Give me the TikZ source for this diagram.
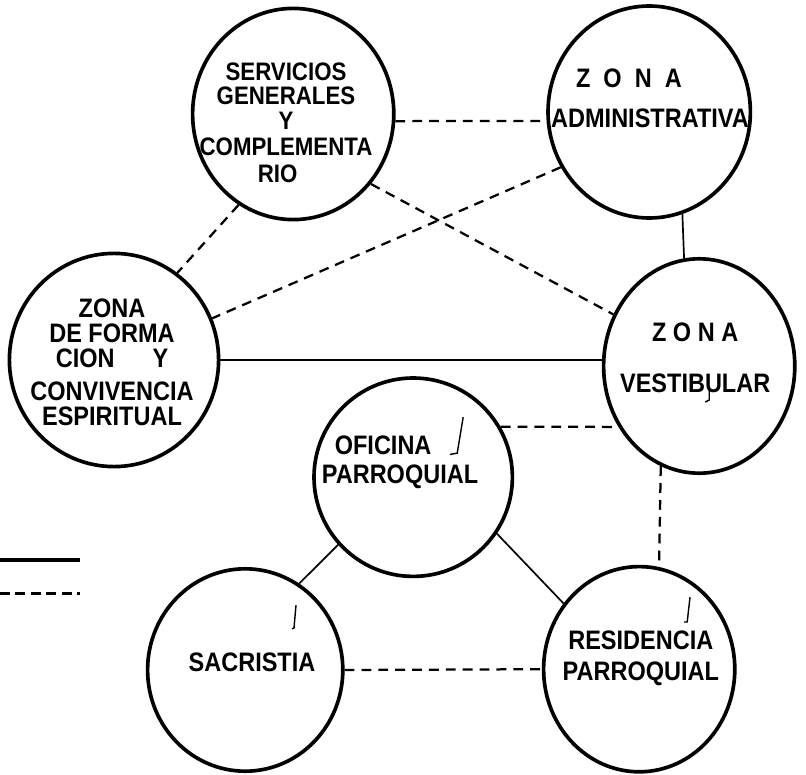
\documentclass[tikz,border=0pt]{standalone}
\usepackage{fontspec}
\setmainfont{Liberation Sans}
\newfontfamily\zonefont{Liberation Sans}[FakeStretch=0.88]
\usepackage{tikz}
\usetikzlibrary{shapes.geometric}
\tikzset{
  zone/.style={draw, ellipse, line width=2.6pt, inner sep=0pt,
               minimum width=5cm, minimum height=5.2cm},
  zonetext/.style={align=center, inner sep=0pt,
                   font=\zonefont\bfseries\fontsize{19}{19}\selectfont},
  link/.style={line width=1.6pt},
  thinlink/.style={line width=1.2pt},
  dashlink/.style={link, dash pattern=on 7pt off 5pt},
  legendline/.style={line width=2.4pt},
  tickmark/.style={line width=1pt}
}
\begin{document}
\begin{tikzpicture}
\useasboundingbox (0,0) rectangle (20.15,-19.375);

% Zones
\node[zone, minimum width=5.03cm, minimum height=5.28cm] (serv)  at (7.33,-2.85)  {};
\node[zone, minimum width=5.06cm, minimum height=5.30cm] (admin) at (16.23,-2.80) {};
\node[zone, minimum width=5.23cm, minimum height=5.33cm] (form)  at (2.85,-9.00)  {};
\node[zone, minimum width=4.78cm, minimum height=5.36cm] (vest)  at (17.48,-9.15) {};
\node[zone, minimum width=4.96cm, minimum height=4.96cm] (ofic)  at (10.33,-11.93) {};
\node[zone, minimum width=4.88cm, minimum height=5.06cm] (sacr)  at (6.13,-16.75) {};
\node[zone, minimum width=4.78cm, minimum height=5.13cm] (resi)  at (15.98,-16.73) {};

% Zone names
\node[zonetext, font=\zonefont\bfseries\fontsize{18}{18}\selectfont] (servT) at (7.15,-3.08)
  {SERVICIOS\\[-1.2pt]GENERALES\\[0pt]Y\\[0.6pt]COMPLEMENTA\\[1.2pt]RIO\hspace*{12pt}};
\node[zonetext] (adminT) at (16.25,-2.45) {Z\ \ O\ \ N\ \ A\hspace*{30pt}\\[9.3pt]ADMINISTRATIVA};
\node[zonetext] (formT) at (2.80,-9.06) {ZONA\\[-1.3pt]DE FORMA\\[-1.3pt]CION\hspace*{27pt}Y\hspace*{20pt}\\[4.4pt]CONVIVENCIA\\[-1.3pt]ESPIRITUAL};
\node[zonetext] (vestT) at (17.38,-8.94) {Z O N A\\[17pt]VESTIBULAR};
\node[zonetext] (oficT) at (10.00,-11.56) {OFICINA\hspace*{24pt}\\[1.5pt]PARROQUIAL};
\node[zonetext] (sacrT) at (6.30,-16.55) {SACRISTIA};
\node[zonetext] (resiT) at (16.02,-16.46) {RESIDENCIA\\[3pt]PARROQUIAL};

% Connections
\draw[dashlink] (serv.-4) -- (admin.-175);
\draw[dashlink] (serv.-121) -- (form.54);
\draw[dashlink] (serv.-42) -- (vest.149);
\draw[dashlink] (admin.-148) -- (form.23);
\draw[thinlink] (admin.-72) -- (vest.98);
\draw[link] (form.east) -- (vest.west |- form.east);
\draw[dashlink] (ofic.30) -- (vest.-143);
\draw[dashlink] (vest.-111) -- (resi.79);
\draw[thinlink] (ofic.-138) -- (sacr.58);
\draw[thinlink] (ofic.-34) -- (resi.139);
\draw[dashlink] (sacr.east) -- (resi.west);

% Legend
\coordinate (solidA) at (0,-14.0);
\coordinate (solidB) at (2.0,-14.0);
\coordinate (dashA) at (0,-14.83);
\coordinate (dashB) at (2.0,-14.83);
\draw[legendline] (solidA) -- (solidB);
\draw[legendline, dash pattern=on 7pt off 4pt] (dashA) -- (dashB);

% Check marks
\draw[tickmark] (11.58,-10.43) -- (11.43,-11.33) -- (11.25,-11.36);
\draw[tickmark] (7.40,-15.13) -- (7.35,-15.70) -- (7.30,-15.72);
\draw[tickmark] (17.25,-14.93) -- (17.18,-15.55) -- (17.10,-15.55);
\draw[tickmark] (17.73,-9.75) -- (17.73,-10.00) -- (17.63,-10.05);

\end{tikzpicture}
\end{document}
